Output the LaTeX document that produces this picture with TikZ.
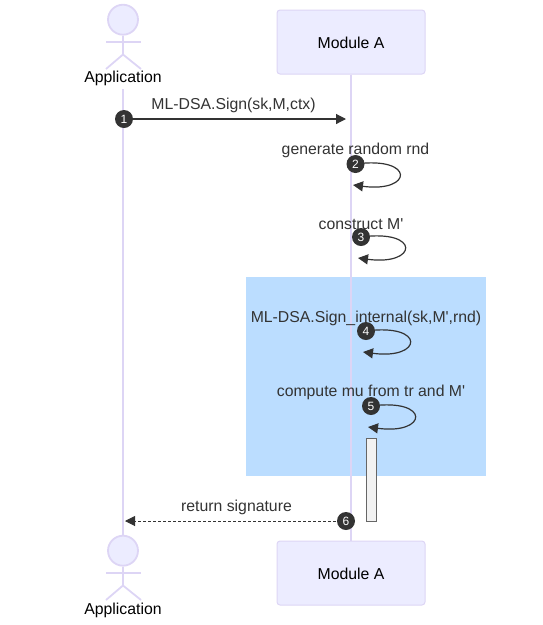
\documentclass[tikz,border=0pt]{standalone}
\usepackage{fontspec}
\setmainfont{Liberation Sans}
\usepackage{xcolor}
\definecolor{lifeLine}{HTML}{DDD5F5}
\definecolor{actorFill}{HTML}{ECECFF}
\definecolor{msgGray}{HTML}{333333}
\definecolor{boxBlue}{HTML}{BBDDFF}
\usetikzlibrary{arrows.meta,calc}
\tikzset{
    actorLine/.style={lifeLine,line width=1.8pt},
    lifeRule/.style={lifeLine,line width=1.8pt},
    moduleBox/.style={draw=lifeLine,fill=actorFill,line width=1pt,rounded corners=3pt,minimum width=148pt,minimum height=64pt,inner sep=0pt,text height=13.4pt,text depth=0pt,font=\fontsize{15.8}{19}\selectfont,text=black},
    actorName/.style={inner sep=0pt,font=\fontsize{15.8}{19}\selectfont,text=black},
    msgLabel/.style={inner sep=0pt,font=\fontsize{15.8}{19}\selectfont,text=msgGray},
    msgArrow/.style={msgGray,line width=1.2pt,-{Triangle[length=10pt,width=10pt]}},
    badge/.style={circle,fill=msgGray,minimum size=18pt,inner sep=0pt,font=\fontsize{12}{14}\selectfont,text=white}
}
\begin{document}
\begin{tikzpicture}[x=1pt,y=-1pt]
    \useasboundingbox (0,0) rectangle (543,625);

    % group background
    \fill[boxBlue] (246,277) rectangle (486,476);

    % the two actors, top and bottom
    \foreach \who/\yo in {appTop/0,appBot/531}{
      \node[circle,draw=lifeLine,fill=actorFill,line width=1.8pt,minimum size=30pt,inner sep=0pt] (\who Head) at (123,19.7+\yo) {};
      \coordinate (\who Arml) at (106,42.3+\yo);
      \coordinate (\who Armr) at (141,42.3+\yo);
      \coordinate (\who Hip) at (123,54.5+\yo);
      \coordinate (\who Legl) at (106,69+\yo);
      \coordinate (\who Legr) at (141,69+\yo);
      \draw[actorLine] (\who Head) -- (\who Hip);
      \draw[actorLine] (\who Arml) -- (\who Armr);
      \draw[actorLine] (\who Legl) -- (\who Hip) -- (\who Legr);
    }
    \node[actorName] (appTopName) at (123,78) {Application};
    \node[actorName] (appBotName) at (123,610) {Application};

    \node[moduleBox] (modTop) at (351,42) {Module A};
    \node[moduleBox] (modBot) at (351,573) {Module A};

    % lifelines
    \coordinate (appStart) at (123,89);
    \draw[lifeRule] (appStart) -- (appBotHead.north);
    \draw[lifeRule] (modTop.south) -- (modBot.north);

    % activation bar
    \node[draw=black!60,fill=black!5,line width=1pt,minimum width=10pt,minimum height=83pt,inner sep=0pt] (activeBar) at (371,480) {};

    % messages
    \node[msgLabel] (labelA) at (233.5,105) {ML-DSA.Sign(sk,M,ctx)};
    \node[msgLabel] (labelB) at (355.5,150) {generate random rnd};
    \node[msgLabel] (labelC) at (361,224) {construct M\textquotesingle};
    \node[msgLabel] (labelD) at (366,318) {ML-DSA.Sign\_internal(sk,M\textquotesingle,rnd)};
    \node[msgLabel] (labelE) at (371,392) {compute mu from tr and M\textquotesingle};
    \node[msgLabel] (labelF) at (236.5,507) {return signature};

    \coordinate (endA) at (346,119);
    \coordinate (endF) at (125,521);
    \coordinate (endB) at (353,185);
    \coordinate (endC) at (358,258);
    \coordinate (endD) at (363,352);
    \coordinate (endE) at (368,427);

    \coordinate (startB) at (355.5,164);
    \coordinate (startC) at (361,237);
    \coordinate (startD) at (366,331);
    \coordinate (startE) at (371,406);

    \draw[msgArrow] (124,119) coordinate (startA) -- (endA);
    \draw[msgArrow,line width=1pt,dash pattern=on 3pt off 2pt] (346,521) coordinate (startF) -- (endF);
    \foreach \n in {B,C,D,E}{
      \draw[msgArrow] (start\n) .. controls +(60,-8) and +(60,8) .. (end\n);
    }

    \node[badge] (stepA) at (startA) {1};
    \node[badge] (stepB) at (startB) {2};
    \node[badge] (stepC) at (startC) {3};
    \node[badge] (stepD) at (startD) {4};
    \node[badge] (stepE) at (startE) {5};
    \node[badge] (stepF) at (startF) {6};
\end{tikzpicture}
\end{document}
